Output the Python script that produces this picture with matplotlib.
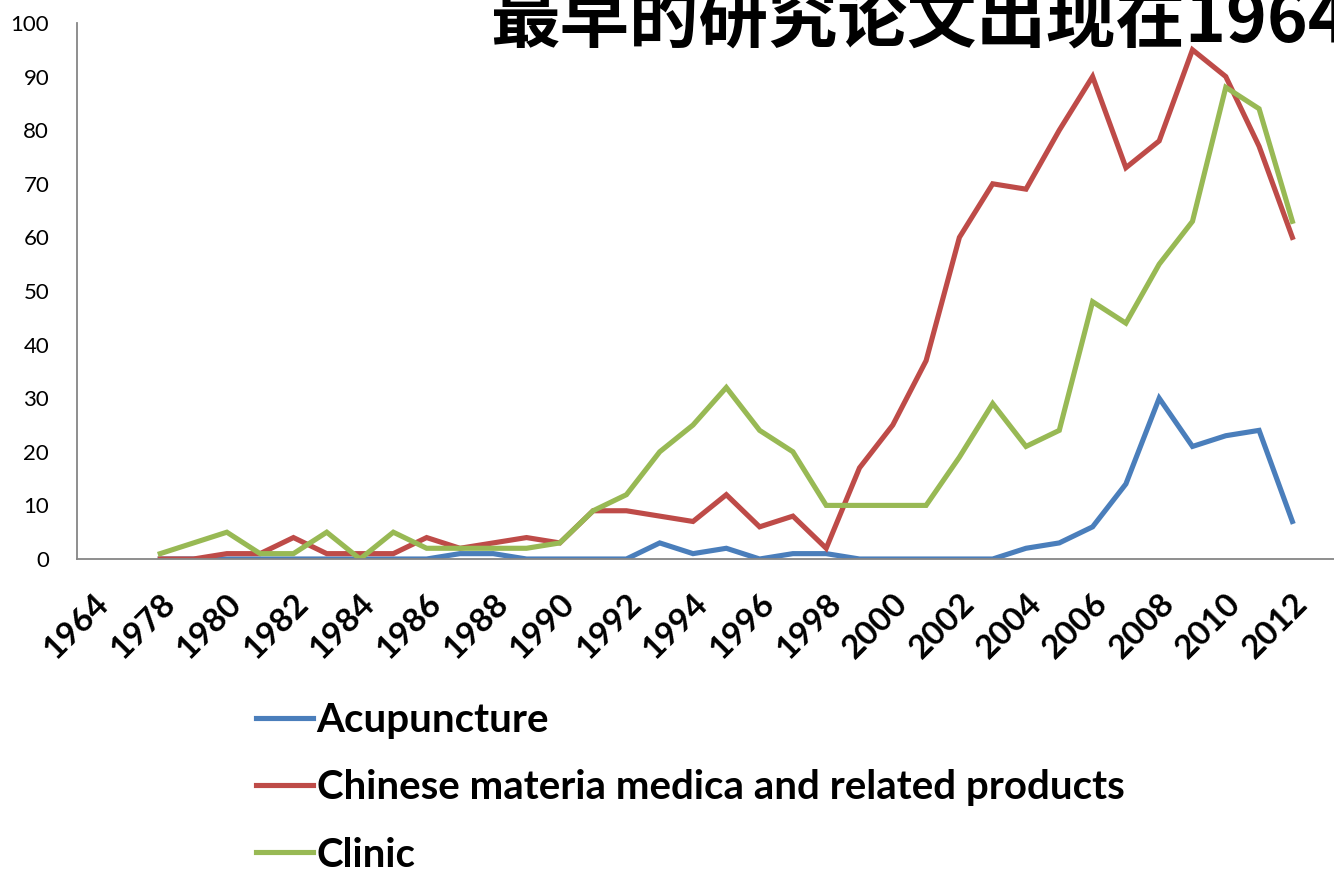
import matplotlib
matplotlib.use("Agg")
import matplotlib.pyplot as plt
import numpy as np

categories = ['1964', '1977'] + [str(y) for y in range(1978, 2013)]
tick_labels_shown = categories[::2]

acupuncture = [None, None,
               0, 0, 0, 0, 0, 0, 0, 0, 0, 1, 1, 0, 0, 0, 0, 3, 1, 2, 0, 1, 1,
               0, 0, 0, 0, 0, 2, 3, 6, 14, 30, 21, 23, 24, 7]
chinese_materia = [None, None,
                   0, 0, 1, 1, 4, 1, 1, 1, 4, 2, 3, 4, 3, 9, 9, 8, 7, 12, 6, 8, 2,
                   17, 25, 37, 60, 70, 69, 80, 90, 73, 78, 95, 90, 77, 60]
clinic = [None, None,
          1, 3, 5, 1, 1, 5, 0, 5, 2, 2, 2, 2, 3, 9, 12, 20, 25, 32, 24, 20, 10,
          10, 10, 10, 19, 29, 21, 24, 48, 44, 55, 63, 88, 84, 63]
series_names = ['Acupuncture', 'Chinese materia medica and related products', 'Clinic']
title_text = '最早的研究论文出现在1964年'

colors = ['#4A7EBB', '#BE4B48', '#98B954']

fig = plt.figure(figsize=(13.34, 8.71), dpi=100)
ax = fig.add_axes([77/1334, 1 - 559/871, 1 - 77/1334, (559 - 23)/871])

x = np.arange(len(categories))
for vals, name, c in zip([acupuncture, chinese_materia, clinic], series_names, colors):
    v = np.array([np.nan if a is None else a for a in vals], dtype=float)
    ax.plot(x, v, color=c, lw=3.7, label=name, solid_joinstyle='miter')

ax.set_ylim(0, 100)
ax.set_xlim(-0.5, 37.25)
ax.set_yticks(range(0, 101, 10))
ax.set_xticks(x[::2])
ax.set_xticklabels(tick_labels_shown, rotation=45, ha='right', va='top',
                   rotation_mode='anchor', fontsize=24, fontweight='bold', family='Lato')
for lab in ax.get_yticklabels():
    lab.set_family('Lato')
    lab.set_fontsize(16)
ax.tick_params(axis='both', length=0)
ax.tick_params(axis='y', pad=20)
ax.tick_params(axis='x', pad=21)
for s in ['top', 'right']:
    ax.spines[s].set_visible(False)
for s in ['left', 'bottom']:
    ax.spines[s].set_color('#868686')
    ax.spines[s].set_linewidth(1.3)

fig.text(490/1334, 1 - 42/871, title_text, family='Noto Sans CJK SC', fontweight='bold',
         fontsize=50, ha='left', va='baseline', color='black')

leg = fig.legend(loc='upper left', bbox_to_anchor=(236/1334, 1 - 682/871), frameon=False,
                 prop={'family': 'Lato', 'weight': 'bold', 'size': 29},
                 handlelength=1.4, handletextpad=0.1, labelspacing=0.75, borderpad=0)

fig.savefig('out.png', dpi=100)
